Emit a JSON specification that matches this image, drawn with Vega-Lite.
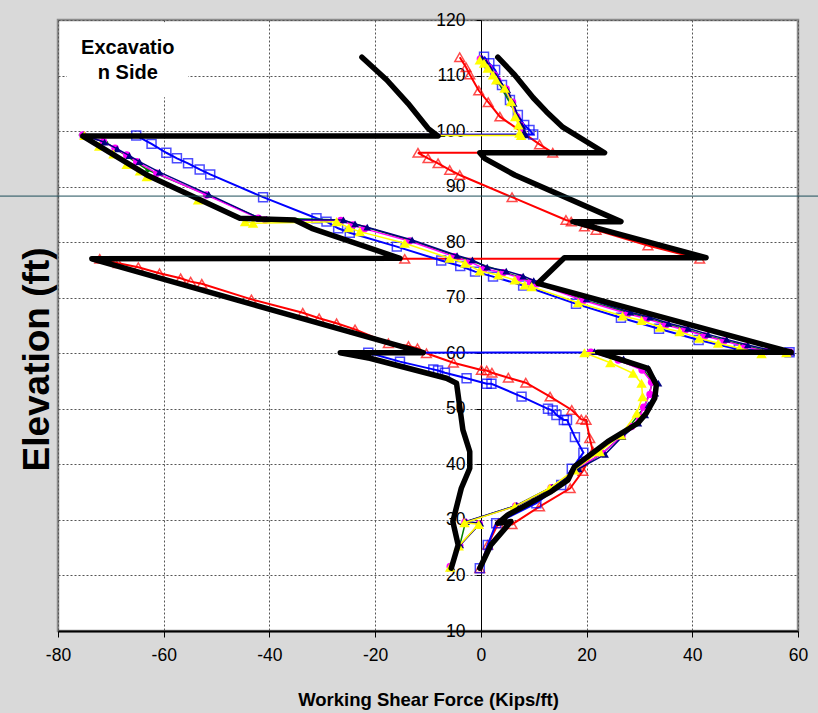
{
"$schema":"https://vega.github.io/schema/vega-lite/v6.json",
"width":740,"height":611,
"autosize":{"type":"none"},
"padding":{"left":58,"top":20,"right":20,"bottom":82},
"background":"#d9d9d9",
"config":{
 "view":{"fill":"white","stroke":"#8c8c8c","strokeWidth":2.5},
 "font":"Liberation Sans",
 "axis":{"labelFont":"Liberation Sans","titleFont":"Liberation Sans","labelColor":"black","titleColor":"black","gridColor":"#555555","gridDash":[2,2],"gridWidth":1,"labelFlush":false,"labelOverlap":false,"tickColor":"black"}
},
"datasets":{
 "red":[
 {"seq":1,"force":-4.0,"elev":113.3},{"seq":2,"force":-2.8,"elev":111.5},{"seq":3,"force":-2.1,"elev":110.2},{"seq":4,"force":-0.4,"elev":107.3},{"seq":5,"force":1.4,"elev":105.2},{"seq":6,"force":3.6,"elev":102.6},{"seq":7,"force":11.1,"elev":97.6},{"seq":8,"force":13.6,"elev":96.1},{"seq":9,"force":-11.9,"elev":96.1},{"seq":10,"force":-10.0,"elev":95.1},{"seq":11,"force":-8.1,"elev":94.2},{"seq":12,"force":-5.9,"elev":93.0},{"seq":13,"force":-4.0,"elev":92.1},{"seq":14,"force":5.9,"elev":88.1},{"seq":15,"force":16.1,"elev":84.0},{"seq":16,"force":17.1,"elev":83.7},{"seq":17,"force":19.6,"elev":82.8},{"seq":18,"force":21.8,"elev":82.2},{"seq":19,"force":31.6,"elev":79.4},{"seq":20,"force":41.4,"elev":77.0},{"seq":21,"force":-14.4,"elev":77.0},{"seq":22,"force":-72.1,"elev":77.0},{"seq":23,"force":-68.6,"elev":76.2},{"seq":24,"force":-64.8,"elev":75.5},{"seq":25,"force":-60.8,"elev":74.4},{"seq":26,"force":-56.8,"elev":73.5},{"seq":27,"force":-54.9,"elev":72.9},{"seq":28,"force":-52.8,"elev":72.5},{"seq":29,"force":-43.4,"elev":69.7},{"seq":30,"force":-33.7,"elev":67.3},{"seq":31,"force":-30.6,"elev":66.3},{"seq":32,"force":-27.3,"elev":65.4},{"seq":33,"force":-23.8,"elev":64.3},{"seq":34,"force":-17.5,"elev":61.8},{"seq":35,"force":-13.7,"elev":61.3},{"seq":36,"force":-12.0,"elev":60.9},{"seq":37,"force":-10.3,"elev":60.0},{"seq":38,"force":-5.2,"elev":58.3},{"seq":39,"force":0.1,"elev":57.0},{"seq":40,"force":1.1,"elev":56.9},{"seq":41,"force":2.1,"elev":56.5},{"seq":42,"force":5.2,"elev":55.6},{"seq":43,"force":8.5,"elev":54.7},{"seq":44,"force":13.1,"elev":52.2},{"seq":45,"force":17.2,"elev":49.8},{"seq":46,"force":19.0,"elev":48.1},{"seq":47,"force":19.9,"elev":48.0},{"seq":48,"force":20.6,"elev":44.7},{"seq":49,"force":21.2,"elev":42.3},{"seq":50,"force":19.3,"elev":38.8},{"seq":51,"force":16.9,"elev":35.7},{"seq":52,"force":11.1,"elev":32.4},{"seq":53,"force":5.9,"elev":29.2},{"seq":54,"force":3.3,"elev":29.4},{"seq":55,"force":1.3,"elev":25.5},{"seq":56,"force":-0.2,"elev":21.3}
 ],
 "blue":[
 {"seq":1,"force":0.6,"elev":113.4},{"seq":2,"force":1.6,"elev":112.2},{"seq":3,"force":2.7,"elev":111.0},{"seq":4,"force":4.0,"elev":108.3},{"seq":5,"force":5.5,"elev":105.6},{"seq":6,"force":7.0,"elev":102.9},{"seq":7,"force":8.2,"elev":101.1},{"seq":8,"force":9.2,"elev":100.2},{"seq":9,"force":9.9,"elev":99.4},{"seq":10,"force":-65.2,"elev":99.2},{"seq":11,"force":-62.3,"elev":97.7},{"seq":12,"force":-59.5,"elev":96.1},{"seq":13,"force":-57.5,"elev":95.1},{"seq":14,"force":-55.4,"elev":94.2},{"seq":15,"force":-53.2,"elev":93.1},{"seq":16,"force":-51.2,"elev":92.2},{"seq":17,"force":-41.2,"elev":88.1},{"seq":18,"force":-31.1,"elev":84.3},{"seq":19,"force":-29.2,"elev":83.7},{"seq":20,"force":-27.0,"elev":82.5},{"seq":21,"force":-24.8,"elev":81.7},{"seq":22,"force":-15.9,"elev":79.2},{"seq":23,"force":-7.5,"elev":76.7},{"seq":24,"force":-3.9,"elev":75.7},{"seq":25,"force":-1.1,"elev":74.7},{"seq":26,"force":2.3,"elev":73.8},{"seq":27,"force":8.0,"elev":72.2},{"seq":28,"force":18.0,"elev":68.9},{"seq":29,"force":26.5,"elev":66.4},{"seq":30,"force":33.7,"elev":64.4},{"seq":31,"force":41.2,"elev":62.4},{"seq":32,"force":48.8,"elev":60.7},{"seq":33,"force":58.4,"elev":60.2},{"seq":34,"force":-21.3,"elev":60.1},{"seq":35,"force":-15.3,"elev":58.5},{"seq":36,"force":-9.0,"elev":57.1},{"seq":37,"force":-8.1,"elev":56.9},{"seq":38,"force":-6.8,"elev":56.5},{"seq":39,"force":-2.7,"elev":55.5},{"seq":40,"force":1.1,"elev":54.5},{"seq":41,"force":2.0,"elev":54.5},{"seq":42,"force":7.7,"elev":52.2},{"seq":43,"force":12.7,"elev":50.0},{"seq":44,"force":13.6,"elev":49.7},{"seq":45,"force":14.3,"elev":48.9},{"seq":46,"force":15.7,"elev":48.0},{"seq":47,"force":16.3,"elev":48.0},{"seq":48,"force":17.8,"elev":44.9},{"seq":49,"force":19.4,"elev":42.1},{"seq":50,"force":17.2,"elev":39.2},{"seq":51,"force":15.2,"elev":36.3},{"seq":52,"force":10.5,"elev":33.0},{"seq":53,"force":2.9,"elev":29.4},{"seq":54,"force":1.3,"elev":25.5},{"seq":55,"force":-0.2,"elev":21.3}
 ],
 "green":[
 {"seq":1,"force":-0.1,"elev":113.1},{"seq":2,"force":3.0,"elev":109.3},{"seq":3,"force":6.8,"elev":102.8},{"seq":4,"force":8.1,"elev":99.3},{"seq":5,"force":-75.6,"elev":99.3},{"seq":6,"force":-71.0,"elev":98.0},{"seq":7,"force":-63.0,"elev":93.0},{"seq":8,"force":-52.0,"elev":88.6},{"seq":9,"force":-42.0,"elev":84.4},{"seq":10,"force":-26.3,"elev":84.0},{"seq":11,"force":-13.3,"elev":80.3},{"seq":12,"force":-1.8,"elev":76.6},{"seq":13,"force":10.8,"elev":72.6},{"seq":14,"force":19.6,"elev":69.6},{"seq":15,"force":31.6,"elev":66.3},{"seq":16,"force":42.6,"elev":63.2},{"seq":17,"force":54.2,"elev":60.4},{"seq":18,"force":58.6,"elev":60.3},{"seq":19,"force":21.0,"elev":60.3},{"seq":20,"force":30.8,"elev":57.1},{"seq":21,"force":32.5,"elev":54.7},{"seq":22,"force":31.0,"elev":50.4},{"seq":23,"force":26.8,"elev":45.2},{"seq":24,"force":23.1,"elev":42.1},{"seq":25,"force":13.4,"elev":35.9},{"seq":26,"force":6.7,"elev":32.6},{"seq":27,"force":-2.9,"elev":29.6},{"seq":28,"force":-4.0,"elev":25.4},{"seq":29,"force":-5.7,"elev":21.6}
 ],
 "magenta":[
 {"seq":1,"force":-0.1,"elev":113.0},{"seq":2,"force":0.8,"elev":112.3},{"seq":3,"force":1.5,"elev":111.4},{"seq":4,"force":2.5,"elev":110.1},{"seq":5,"force":3.2,"elev":109.1},{"seq":6,"force":4.8,"elev":107.6},{"seq":7,"force":6.0,"elev":105.2},{"seq":8,"force":6.8,"elev":102.6},{"seq":9,"force":7.5,"elev":101.0},{"seq":10,"force":7.8,"elev":99.7},{"seq":11,"force":8.0,"elev":99.3},{"seq":12,"force":-75.3,"elev":99.3},{"seq":13,"force":-71.4,"elev":98.1},{"seq":14,"force":-69.2,"elev":96.9},{"seq":15,"force":-67.0,"elev":95.7},{"seq":16,"force":-65.1,"elev":94.5},{"seq":17,"force":-61.3,"elev":92.4},{"seq":18,"force":-51.9,"elev":88.5},{"seq":19,"force":-42.1,"elev":84.3},{"seq":20,"force":-40.8,"elev":84.0},{"seq":21,"force":-26.5,"elev":83.9},{"seq":22,"force":-24.2,"elev":83.1},{"seq":23,"force":-22.0,"elev":82.4},{"seq":24,"force":-13.5,"elev":80.2},{"seq":25,"force":-5.0,"elev":77.4},{"seq":26,"force":-2.1,"elev":76.5},{"seq":27,"force":0.7,"elev":75.2},{"seq":28,"force":4.2,"elev":74.5},{"seq":29,"force":7.4,"elev":73.6},{"seq":30,"force":9.4,"elev":72.8},{"seq":31,"force":10.6,"elev":72.5},{"seq":32,"force":19.4,"elev":69.5},{"seq":33,"force":27.8,"elev":67.1},{"seq":34,"force":31.4,"elev":66.2},{"seq":35,"force":35.0,"elev":65.1},{"seq":36,"force":38.7,"elev":64.2},{"seq":37,"force":42.4,"elev":63.1},{"seq":38,"force":46.0,"elev":62.2},{"seq":39,"force":50.0,"elev":61.2},{"seq":40,"force":54.0,"elev":60.3},{"seq":41,"force":58.5,"elev":60.2},{"seq":42,"force":20.8,"elev":60.2},{"seq":43,"force":26.0,"elev":58.8},{"seq":44,"force":30.5,"elev":57.0},{"seq":45,"force":32.3,"elev":54.8},{"seq":46,"force":32.0,"elev":52.6},{"seq":47,"force":30.8,"elev":50.3},{"seq":48,"force":30.0,"elev":48.5},{"seq":49,"force":28.5,"elev":46.8},{"seq":50,"force":26.7,"elev":45.1},{"seq":51,"force":23.0,"elev":42.0},{"seq":52,"force":18.0,"elev":39.1},{"seq":53,"force":13.3,"elev":35.8},{"seq":54,"force":6.6,"elev":32.5},{"seq":55,"force":-3.0,"elev":29.6},{"seq":56,"force":-0.3,"elev":29.3},{"seq":57,"force":-4.0,"elev":25.4},{"seq":58,"force":-5.8,"elev":21.6}
 ],
 "navy":[
 {"seq":1,"force":0.2,"elev":113.2},{"seq":2,"force":1.0,"elev":112.4},{"seq":3,"force":1.8,"elev":111.3},{"seq":4,"force":2.8,"elev":110.0},{"seq":5,"force":3.5,"elev":109.0},{"seq":6,"force":5.0,"elev":107.4},{"seq":7,"force":6.2,"elev":105.0},{"seq":8,"force":7.0,"elev":102.5},{"seq":9,"force":7.8,"elev":101.0},{"seq":10,"force":8.2,"elev":99.8},{"seq":11,"force":8.4,"elev":99.3},{"seq":12,"force":-75.2,"elev":99.3},{"seq":13,"force":-71.2,"elev":98.0},{"seq":14,"force":-68.8,"elev":96.8},{"seq":15,"force":-66.5,"elev":95.6},{"seq":16,"force":-64.6,"elev":94.5},{"seq":17,"force":-60.8,"elev":92.6},{"seq":18,"force":-51.5,"elev":88.6},{"seq":19,"force":-41.8,"elev":84.3},{"seq":20,"force":-40.5,"elev":84.1},{"seq":21,"force":-26.0,"elev":84.0},{"seq":22,"force":-23.8,"elev":83.3},{"seq":23,"force":-21.5,"elev":82.7},{"seq":24,"force":-13.0,"elev":80.4},{"seq":25,"force":-4.5,"elev":77.6},{"seq":26,"force":-1.6,"elev":76.8},{"seq":27,"force":1.2,"elev":75.5},{"seq":28,"force":4.8,"elev":74.8},{"seq":29,"force":8.0,"elev":73.9},{"seq":30,"force":10.0,"elev":73.1},{"seq":31,"force":11.2,"elev":72.8},{"seq":32,"force":20.0,"elev":69.8},{"seq":33,"force":28.3,"elev":67.4},{"seq":34,"force":32.0,"elev":66.5},{"seq":35,"force":35.5,"elev":65.4},{"seq":36,"force":39.2,"elev":64.5},{"seq":37,"force":43.0,"elev":63.4},{"seq":38,"force":46.5,"elev":62.5},{"seq":39,"force":50.5,"elev":61.5},{"seq":40,"force":54.5,"elev":60.6},{"seq":41,"force":58.7,"elev":60.2},{"seq":42,"force":21.5,"elev":60.3},{"seq":43,"force":27.0,"elev":59.0},{"seq":44,"force":31.7,"elev":57.3},{"seq":45,"force":33.6,"elev":54.6},{"seq":46,"force":33.0,"elev":52.8},{"seq":47,"force":31.7,"elev":50.7},{"seq":48,"force":31.1,"elev":48.9},{"seq":49,"force":29.8,"elev":47.4},{"seq":50,"force":26.8,"elev":45.0},{"seq":51,"force":23.5,"elev":41.8},{"seq":52,"force":18.5,"elev":39.2},{"seq":53,"force":13.5,"elev":35.9},{"seq":54,"force":6.8,"elev":32.6},{"seq":55,"force":-2.8,"elev":29.7},{"seq":56,"force":-0.1,"elev":29.4},{"seq":57,"force":-3.9,"elev":25.5},{"seq":58,"force":-5.6,"elev":21.6}
 ],
 "yellow":[
 {"seq":1,"force":-0.2,"elev":112.8},{"seq":2,"force":0.6,"elev":112.2},{"seq":3,"force":1.3,"elev":111.3},{"seq":4,"force":2.3,"elev":110.1},{"seq":5,"force":2.9,"elev":109.2},{"seq":6,"force":4.5,"elev":107.7},{"seq":7,"force":5.7,"elev":105.3},{"seq":8,"force":6.5,"elev":102.6},{"seq":9,"force":7.1,"elev":101.1},{"seq":10,"force":7.3,"elev":99.6},{"seq":11,"force":7.6,"elev":99.2},{"seq":12,"force":-75.0,"elev":99.2},{"seq":13,"force":-72.2,"elev":97.3},{"seq":14,"force":-69.5,"elev":95.9},{"seq":15,"force":-67.0,"elev":94.0},{"seq":16,"force":-64.5,"elev":92.8},{"seq":17,"force":-63.2,"elev":91.8},{"seq":18,"force":-53.5,"elev":87.6},{"seq":19,"force":-44.6,"elev":83.7},{"seq":20,"force":-43.1,"elev":83.4},{"seq":21,"force":-27.3,"elev":83.7},{"seq":22,"force":-25.0,"elev":82.6},{"seq":23,"force":-22.9,"elev":81.9},{"seq":24,"force":-14.4,"elev":79.8},{"seq":25,"force":-5.9,"elev":77.1},{"seq":26,"force":-3.0,"elev":76.2},{"seq":27,"force":-0.2,"elev":74.8},{"seq":28,"force":3.3,"elev":74.1},{"seq":29,"force":6.4,"elev":73.2},{"seq":30,"force":8.3,"elev":72.3},{"seq":31,"force":9.6,"elev":72.0},{"seq":32,"force":18.4,"elev":69.1},{"seq":33,"force":26.8,"elev":66.7},{"seq":34,"force":30.4,"elev":65.9},{"seq":35,"force":33.9,"elev":64.7},{"seq":36,"force":37.6,"elev":63.9},{"seq":37,"force":41.3,"elev":62.7},{"seq":38,"force":44.9,"elev":61.8},{"seq":39,"force":48.9,"elev":60.9},{"seq":40,"force":53.1,"elev":59.9},{"seq":41,"force":57.8,"elev":60.1},{"seq":42,"force":19.6,"elev":60.1},{"seq":43,"force":24.5,"elev":58.3},{"seq":44,"force":28.8,"elev":56.4},{"seq":45,"force":30.4,"elev":54.6},{"seq":46,"force":30.6,"elev":52.2},{"seq":47,"force":29.5,"elev":49.2},{"seq":48,"force":26.5,"elev":45.3},{"seq":49,"force":22.5,"elev":42.3},{"seq":50,"force":17.7,"elev":39.0},{"seq":51,"force":13.0,"elev":35.7},{"seq":52,"force":6.4,"elev":32.4},{"seq":53,"force":-3.1,"elev":29.5},{"seq":54,"force":-0.4,"elev":29.2},{"seq":55,"force":-4.2,"elev":25.3},{"seq":56,"force":-5.8,"elev":21.5}
 ],
 "blackA":[
 {"seq":1,"force":3.2,"elev":113.3},{"seq":2,"force":6.4,"elev":110.1},{"seq":3,"force":9.9,"elev":106.0},{"seq":4,"force":12.4,"elev":103.5},{"seq":5,"force":15.5,"elev":100.7},{"seq":6,"force":23.4,"elev":96.1},{"seq":7,"force":-0.2,"elev":96.1},{"seq":8,"force":0.7,"elev":95.1},{"seq":9,"force":6.4,"elev":92.1},{"seq":10,"force":26.5,"elev":83.7},{"seq":11,"force":17.4,"elev":83.7},{"seq":12,"force":42.6,"elev":77.2},{"seq":13,"force":15.8,"elev":77.2},{"seq":14,"force":10.8,"elev":72.6},{"seq":15,"force":58.7,"elev":60.2},{"seq":16,"force":22.1,"elev":60.2},{"seq":17,"force":31.6,"elev":57.3},{"seq":18,"force":33.2,"elev":54.3},{"seq":19,"force":32.9,"elev":51.9},{"seq":20,"force":31.3,"elev":49.2},{"seq":21,"force":29.7,"elev":47.4},{"seq":22,"force":24.0,"elev":44.1},{"seq":23,"force":21.5,"elev":42.3},{"seq":24,"force":17.7,"elev":39.6},{"seq":25,"force":16.5,"elev":37.2},{"seq":26,"force":13.3,"elev":35.1},{"seq":27,"force":5.1,"elev":30.9},{"seq":28,"force":3.2,"elev":29.4},{"seq":29,"force":5.7,"elev":29.7},{"seq":30,"force":1.9,"elev":25.5},{"seq":31,"force":-0.2,"elev":21.3}
 ],
 "blackB":[
 {"seq":1,"force":-22.5,"elev":113.3},{"seq":2,"force":-17.8,"elev":109.2},{"seq":3,"force":-13.8,"elev":105.0},{"seq":4,"force":-10.0,"elev":100.5},{"seq":5,"force":-8.1,"elev":99.1},{"seq":6,"force":-75.3,"elev":99.1},{"seq":7,"force":-63.2,"elev":92.1},{"seq":8,"force":-45.6,"elev":84.3},{"seq":9,"force":-35.2,"elev":84.0},{"seq":10,"force":-32.0,"elev":82.5},{"seq":11,"force":-15.3,"elev":77.1},{"seq":12,"force":-73.6,"elev":77.0},{"seq":13,"force":-10.9,"elev":60.1},{"seq":14,"force":-26.6,"elev":60.1},{"seq":15,"force":-21.0,"elev":59.1},{"seq":16,"force":-6.5,"elev":55.5},{"seq":17,"force":-4.6,"elev":54.6},{"seq":18,"force":-3.4,"elev":46.2},{"seq":19,"force":-2.1,"elev":42.3},{"seq":20,"force":-2.1,"elev":39.3},{"seq":21,"force":-3.7,"elev":35.7},{"seq":22,"force":-5.3,"elev":29.7},{"seq":23,"force":-4.3,"elev":25.5},{"seq":24,"force":-5.6,"elev":21.3}
 ]
},
"layer":[
 {
 "encoding":{
  "x":{"field":"force","type":"quantitative","scale":{"domain":[-80,60],"nice":false,"zero":false},
   "axis":{"orient":"bottom","values":[-80,-60,-40,-20,0,20,40,60],"labelExpr":"datum.value < 0 ? '-' + (-datum.value) : datum.label","title":"Working Shear Force (Kips/ft)","titleFontSize":18.5,"titleFontWeight":"bold","labelFontSize":17.5,"domainColor":"black","domainWidth":2,"tickSize":6,"tickWidth":1,"labelPadding":9,"titlePadding":27,"grid":true}},
  "y":{"field":"elev","type":"quantitative","scale":{"domain":[10,120],"nice":false,"zero":false},
   "axis":{"orient":"left","offset":-423,"values":[10,20,30,40,50,60,70,80,90,100,110,120],"title":"Elevation (ft)","titleFontSize":37,"titleFontWeight":"bold","titleAngle":-90,"titleX":-444,"titleY":339,"titleAlign":"center","titleBaseline":"middle","labelFontSize":17.5,"domainColor":"black","domainWidth":1,"tickSize":5,"labelPadding":11,"grid":true}},
  "order":{"field":"seq","type":"quantitative"}
 },
 "layer":[
 {"data":{"name":"red"},"mark":{"type":"line","color":"#ff0000","strokeWidth":2}},
 {"data":{"name":"red"},"mark":{"type":"point","shape":"triangle-up","color":"#ff0000","filled":false,"size":95,"strokeWidth":1.5}},
 {"data":{"name":"blue"},"mark":{"type":"line","color":"#0000ff","strokeWidth":2}},
 {"data":{"name":"blue"},"mark":{"type":"point","shape":"square","color":"#0000ff","filled":false,"size":80,"strokeWidth":1.5}},
 {"data":{"name":"green"},"mark":{"type":"line","color":"#008000","strokeWidth":1.5}},
 {"data":{"name":"green"},"mark":{"type":"point","shape":"diamond","color":"#008000","filled":true,"opacity":1,"size":35}},
 {"data":{"name":"magenta"},"mark":{"type":"line","color":"#ff00ff","strokeWidth":1.5}},
 {"data":{"name":"magenta"},"mark":{"type":"point","shape":"circle","color":"#ff00ff","filled":true,"opacity":1,"size":55}},
 {"data":{"name":"navy"},"mark":{"type":"line","color":"#000080","strokeWidth":1.5}},
 {"data":{"name":"navy"},"mark":{"type":"point","shape":"triangle-up","color":"#000080","filled":true,"opacity":1,"size":60}},
 {"data":{"name":"yellow"},"mark":{"type":"line","color":"#ffff00","strokeWidth":1.5}},
 {"data":{"name":"yellow"},"mark":{"type":"point","shape":"triangle-up","color":"#ffff00","filled":true,"opacity":1,"size":110}},
 {"data":{"name":"blackA"},"mark":{"type":"line","color":"#000000","strokeWidth":5.5,"strokeCap":"round","strokeJoin":"round"}},
 {"data":{"name":"blackB"},"mark":{"type":"line","color":"#000000","strokeWidth":5.5,"strokeCap":"round","strokeJoin":"round"}}
 ]
 },
 {"data":{"values":[{"note":"box"}]},"mark":{"type":"rect","color":"white","opacity":1},
  "encoding":{"x":{"datum":-78.3,"type":"quantitative"},"x2":{"datum":-55.4},"y":{"datum":119.6,"type":"quantitative"},"y2":{"datum":106.1}}},
 {"data":{"values":[{"note":"label"}]},"mark":{"type":"text","text":["Excavatio","n Side"],"font":"Liberation Sans","fontSize":20,"fontWeight":"bold","align":"center","baseline":"middle","lineHeight":25,"color":"black"},
  "encoding":{"x":{"datum":-66.8,"type":"quantitative"},"y":{"datum":115.0,"type":"quantitative"}}},
 {"data":{"values":[{"note":"rule"}]},"mark":{"type":"rule","color":"#1d4e5a","strokeWidth":1},
  "encoding":{"x":{"datum":-91,"type":"quantitative"},"x2":{"datum":63.8},"y":{"datum":88.3,"type":"quantitative"}}}
]
}
